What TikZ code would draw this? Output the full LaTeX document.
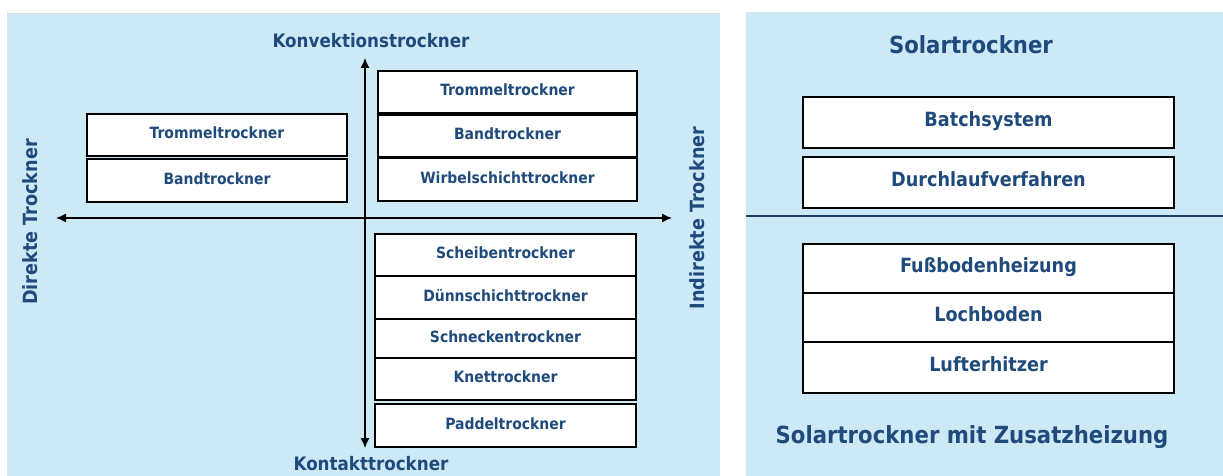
\documentclass[tikz,border=0pt]{standalone}
\usepackage{fontspec}
\setmainfont{DejaVu Sans Condensed}
\usetikzlibrary{arrows.meta}
\definecolor{panelbg}{HTML}{CDE9F6}
\definecolor{labelblue}{HTML}{1F4A7C}
\definecolor{rulenavy}{HTML}{1C3D6B}
\newcommand\fs[1]{\fontsize{#1}{#1}\selectfont}
% \drybox[style]{name}{x1}{y1}{x2}{y2}{text}
\newcommand\drybox[7][]{%
  \node[item,#1,minimum width={(#5-#3)*1pt},minimum height={(#6-#4)*1pt}]
    (#2) at ({(#3+#5)/2},{(#4+#6)/2}) {#7};}
\begin{document}
\begin{tikzpicture}[x=1pt,y=-1pt,
  panel/.style={fill=panelbg,draw=none},
  item/.style={draw=black,line width=2pt,fill=white,inner sep=0pt,
    text=labelblue,font=\bfseries\fs{15.5},text height=0.73em,text depth=0pt},
  bigitem/.style={font=\bfseries\fs{19.6}},
  axislabel/.style={text=labelblue,font=\bfseries\fs{18.6},inner sep=0pt},
  sidelabel/.style={text=labelblue,font=\bfseries\fs{19.6},inner sep=0pt,rotate=90},
  title/.style={text=labelblue,font=\bfseries\fs{23.6},inner sep=0pt,anchor=base},
  axis/.style={line width=1.3pt,{Latex[length=10pt,width=9pt]}-{Latex[length=10pt,width=9pt]}}
]
\useasboundingbox (0,0) rectangle (1223,476);

% background panels
\fill[panelbg] (7,13) rectangle (720,476);
\draw[black!15,line width=1pt] (7,13.5) -- (720,13.5);
\fill[panelbg] (746,12) rectangle (1223,476);

% ---------- drying classification (left panel) ----------
\coordinate (west)  at (56,218);
\coordinate (east)  at (672,218);
\coordinate (north) at (365,58);
\coordinate (south) at (365,448);
\draw[axis] (west) -- (east);
\draw[axis] (north) -- (south);

\node[axislabel,anchor=base] (konv) at (371,48) {Konvektionstrockner};
\node[axislabel,anchor=base] (kont) at (371,470) {Kontakttrockner};
\node[sidelabel] (direkt) at (30.5,222) {Direkte Trockner};
\node[sidelabel] (indirekt) at (697,218) {Indirekte Trockner};

% direct convection dryers
\drybox{dk1}{87}{114}{347}{156}{Trommeltrockner}
\drybox{dk2}{87}{159}{347}{202}{Bandtrockner}

% indirect convection dryers
\drybox{ik1}{378}{71}{637}{113}{Trommeltrockner}
\drybox{ik2}{378}{115}{637}{157}{Bandtrockner}
\drybox{ik3}{378}{158}{637}{201}{Wirbelschichttrockner}

% contact dryers
\drybox{ct1}{375}{234}{636}{276}{Scheibentrockner}
\drybox{ct2}{375}{276}{636}{319}{Dünnschichttrockner}
\drybox{ct3}{375}{319}{636}{358}{Schneckentrockner}
\drybox{ct4}{375}{358}{636}{400}{Knettrockner}
\drybox{ct5}{375}{404}{636}{447}{Paddeltrockner}

% ---------- solar dryers (right panel) ----------
\node[title] (solar) at (971,54) {Solartrockner};
\drybox[bigitem]{s1}{803}{97}{1174}{148}{Batchsystem}
\drybox[bigitem]{s2}{803}{157}{1174}{208}{Durchlaufverfahren}

\coordinate (divL) at (746,216);
\coordinate (divR) at (1223,216);
\draw[rulenavy,line width=2pt] (divL) -- (divR);

\drybox[bigitem]{z1}{803}{244}{1174}{293}{Fußbodenheizung}
\drybox[bigitem]{z2}{803}{293}{1174}{342}{Lochboden}
\drybox[bigitem]{z3}{803}{342}{1174}{393}{Lufterhitzer}
\node[title] (zusatz) at (972,443) {Solartrockner mit Zusatzheizung};
\end{tikzpicture}
\end{document}
